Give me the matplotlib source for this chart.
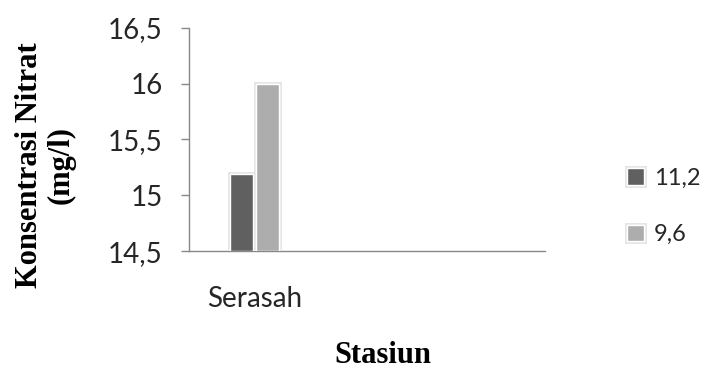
import numpy as np
import matplotlib
matplotlib.use("Agg")
import matplotlib.pyplot as plt
import matplotlib.patheffects as pe

# nitrate concentration per station
stations = ["Serasah"]
series_names = ["11,2", "9,6"]
series_values = [[15.19], [16.0]]
series_colors = ["#606060", "#adadad"]
yticks = [14.5, 15, 15.5, 16, 16.5]
ytick_labels = ["14,5", "15", "15,5", "16", "16,5"]

fig = plt.figure(figsize=(7.1, 3.72), dpi=100)
ax = fig.add_axes([0.266, 0.325, 0.502, 0.600])

x = np.arange(len(stations))
width = 0.195
offsets = [-0.11, 0.11]
glow = [pe.withStroke(linewidth=3.5, foreground="#e4e4e4"), pe.Normal()]
handles = []
for name, vals, col, off in zip(series_names, series_values, series_colors, offsets):
    b = ax.bar(x + off, np.array(vals) - 14.5, width, bottom=14.5, color=col,
               edgecolor="white", linewidth=1, label=name, path_effects=glow, zorder=3)
    handles.append(b)

ax.set_ylim(14.5, 16.5)
ax.set_xlim(-0.56, 2.46)
ax.set_yticks(yticks)
ax.set_yticklabels(ytick_labels)
ax.set_xticks(x)
ax.set_xticklabels(stations)

for s in ["top", "right"]:
    ax.spines[s].set_visible(False)
for s in ["left", "bottom"]:
    ax.spines[s].set_color("#888888")
    ax.spines[s].set_linewidth(1.0)
ax.tick_params(axis="y", length=5.8, width=1, color="#888888", pad=13,
               labelsize=20, labelcolor="#262626")
ax.tick_params(axis="x", length=0, pad=25, labelsize=20, labelcolor="#262626")
for lab in ax.get_yticklabels() + ax.get_xticklabels():
    lab.set_family("Lato")

fig.text(45 / 710, 0.556, "Konsentrasi Nitrat\n(mg/l)", family="Liberation Serif",
         fontweight="bold", fontsize=22, rotation=90, ha="center", va="center",
         multialignment="center", linespacing=1.1)
fig.text(383 / 710, 2 / 372, "Stasiun", family="Liberation Serif", fontweight="bold",
         fontsize=22, ha="center", va="bottom")

leg = fig.legend(handles=handles, loc="center left", bbox_to_anchor=(627 / 710, 0.445),
                 frameon=False, borderpad=0, borderaxespad=0,
                 handlelength=0.7, handleheight=0.7,
                 handletextpad=0.45, labelspacing=1.5,
                 prop={"family": "Lato", "size": 17})
for t in leg.get_texts():
    t.set_color("#262626")

fig.savefig("out.png", dpi=100)
